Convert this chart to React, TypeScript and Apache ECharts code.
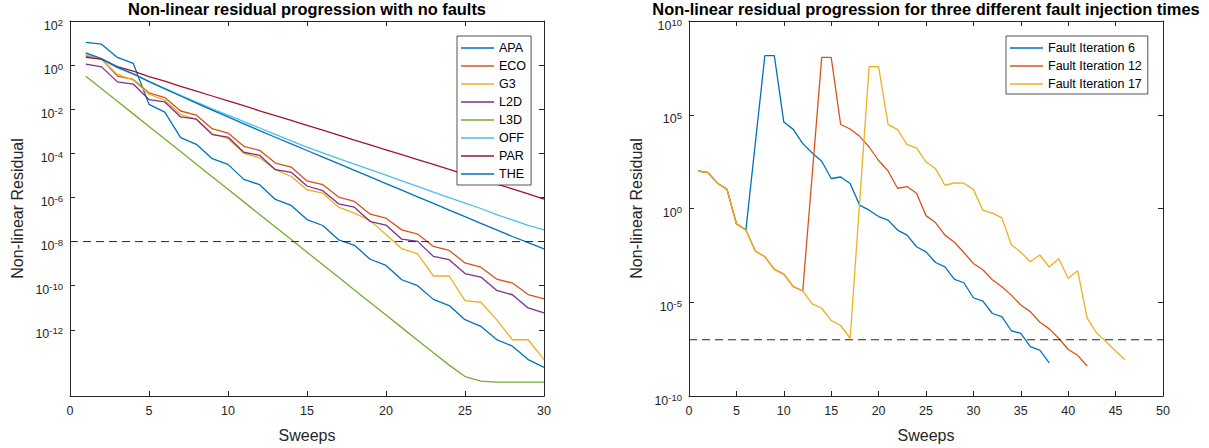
import React, { useEffect, useRef } from "react";
import * as echarts from "echarts";

// ---------- Data (log10 of the non-linear residual) ----------
const leftSweeps = Array.from({ length: 30 }, (_, i) => i + 1);

const apaLog = [1.03, 0.95, 0.35, 0.08, -1.78, -2.13, -3.29, -3.59, -4.24, -4.5, -5.18, -5.42, -6.09, -6.36, -7.0, -7.27, -7.92, -8.17, -8.8, -9.08, -9.73, -10.0, -10.62, -10.9, -11.54, -11.84, -12.44, -12.74, -13.35, -13.7];
const ecoLog = [0.41, 0.27, -0.5, -0.65, -1.26, -1.47, -2.08, -2.27, -2.88, -3.08, -3.68, -3.86, -4.44, -4.62, -5.25, -5.42, -5.98, -6.18, -6.76, -6.94, -7.47, -7.66, -8.22, -8.4, -8.97, -9.16, -9.7, -9.88, -10.4, -10.6];
const g3Log = [0.53, 0.26, -0.42, -0.68, -1.32, -1.59, -2.24, -2.45, -3.1, -3.33, -4.0, -4.2, -4.74, -5.05, -5.65, -5.8, -6.44, -6.71, -7.05, -7.68, -8.32, -8.56, -9.56, -9.56, -10.68, -10.75, -11.54, -12.45, -12.45, -13.35];
const l2dLog = [0.05, -0.08, -0.76, -0.86, -1.56, -1.67, -2.35, -2.45, -3.15, -3.26, -3.95, -4.09, -4.74, -4.86, -5.48, -5.69, -6.29, -6.44, -7.09, -7.25, -7.89, -7.99, -8.67, -8.82, -9.45, -9.61, -10.21, -10.41, -11.01, -11.23];
const l3dLog = [-0.5, -1.07, -1.64, -2.21, -2.78, -3.35, -3.92, -4.49, -5.06, -5.63, -6.2, -6.77, -7.34, -7.91, -8.48, -9.05, -9.62, -10.19, -10.76, -11.33, -11.9, -12.47, -13.04, -13.6, -14.12, -14.33, -14.37, -14.37, -14.37, -14.37];
const offLog = [0.45, 0.25, -0.1, -0.4, -0.73, -1.05, -1.37, -1.68, -1.98, -2.27, -2.56, -2.85, -3.14, -3.43, -3.72, -3.98, -4.24, -4.49, -4.74, -4.99, -5.25, -5.5, -5.76, -6.01, -6.26, -6.5, -6.78, -7.02, -7.27, -7.47];
const parLog = [0.35, 0.27, -0.07, -0.27, -0.52, -0.73, -0.96, -1.18, -1.4, -1.62, -1.84, -2.07, -2.29, -2.51, -2.73, -2.95, -3.17, -3.4, -3.62, -3.84, -4.06, -4.28, -4.5, -4.73, -4.95, -5.17, -5.39, -5.61, -5.84, -6.08];
const theLog = [0.55, 0.3, -0.1, -0.4, -0.75, -1.08, -1.4, -1.72, -2.04, -2.35, -2.66, -2.97, -3.27, -3.57, -3.87, -4.17, -4.47, -4.77, -5.07, -5.37, -5.67, -5.97, -6.27, -6.57, -6.87, -7.17, -7.47, -7.77, -8.05, -8.33];

const leftNames = ["APA", "ECO", "G3", "L2D", "L3D", "OFF", "PAR", "THE"];
const leftValues = [apaLog, ecoLog, g3Log, l2dLog, l3dLog, offLog, parLog, theLog];
const leftColors = ["#0072BD", "#D95319", "#EDB120", "#7E2F8E", "#77AC30", "#4DBEEE", "#A2142F", "#0072BD"];

const fault6Log = [2.0, 1.91, 1.35, 1.03, -0.81, -1.15, 3.5, 8.15, 8.15, 4.61, 4.22, 3.46, 2.96, 2.52, 1.6, 1.68, 1.33, 0.18, -0.09, -0.43, -0.62, -1.15, -1.42, -2.04, -2.31, -2.88, -3.11, -3.78, -3.96, -4.76, -4.94, -5.6, -5.77, -6.52, -6.66, -7.37, -7.55, -8.23];
const fault12Log = [2.0, 1.91, 1.35, 1.03, -0.81, -1.15, -2.27, -2.57, -3.25, -3.5, -4.17, -4.4, 1.83, 8.06, 8.06, 4.48, 4.24, 3.85, 3.28, 2.56, 2.0, 1.08, 1.17, 0.81, -0.38, -0.75, -1.42, -1.8, -2.35, -2.93, -3.27, -3.8, -4.17, -4.62, -5.15, -5.5, -6.05, -6.42, -6.92, -7.52, -7.83, -8.4];
const fault17Log = [2.0, 1.91, 1.35, 1.03, -0.81, -1.15, -2.27, -2.57, -3.25, -3.5, -4.17, -4.4, -5.09, -5.32, -5.98, -6.24, -6.92, 0.33, 7.57, 7.57, 4.49, 4.21, 3.41, 3.23, 2.48, 2.13, 1.24, 1.36, 1.35, 1.02, -0.09, -0.25, -0.5, -1.93, -2.33, -2.84, -2.48, -3.12, -2.68, -3.72, -3.32, -5.85, -6.64, -7.1, -7.6, -8.07];

const rightNames = ["Fault Iteration 6", "Fault Iteration 12", "Fault Iteration 17"];
const rightValues = [fault6Log, fault12Log, fault17Log];
const rightColors = ["#0072BD", "#D95319", "#EDB120"];

const leftThreshold = -8;
const rightThreshold = -7;
const leftYTicks = [-12, -10, -8, -6, -4, -2, 0, 2];

const FONT = "'Liberation Sans', Arial, Helvetica, sans-serif";
const INK = "#262626";

function supLabel(v: number) {
  return `{b|10}{s|${v}}`;
}
const supRich = {
  b: { fontSize: 12.5, lineHeight: 15, verticalAlign: "bottom", color: INK, fontFamily: FONT },
  s: { fontSize: 9.5, lineHeight: 15, verticalAlign: "top", color: INK, fontFamily: FONT },
};

export default function App() {
  const ref = useRef<HTMLDivElement>(null);
  useEffect(() => {
    if (!ref.current) return;
    const chart = echarts.init(ref.current, undefined, { renderer: "svg" });

    const axisLine = { show: true, onZero: false, lineStyle: { color: INK, width: 1 } };
    const tick = { show: true, inside: true, length: 5, lineStyle: { color: INK, width: 1 } };

    const xAxisBase = (gridIndex: number, max: number, position: string, labels: boolean) => ({
      type: "value",
      gridIndex,
      position,
      min: 0,
      max,
      interval: 5,
      axisLine,
      axisTick: tick,
      splitLine: { show: false },
      axisLabel: { show: labels, margin: 8, color: INK, fontSize: 12.5, fontFamily: FONT },
      ...(labels
        ? { name: "Sweeps", nameLocation: "middle", nameGap: 31, nameTextStyle: { fontSize: 16, color: INK, fontFamily: FONT } }
        : {}),
    });

    const yName = { name: "Non-linear Residual", nameLocation: "middle", nameGap: 45, nameTextStyle: { fontSize: 16, color: INK, fontFamily: FONT } };

    const leftSeries = leftNames.map((name, i) => ({
      name,
      type: "line",
      xAxisIndex: 0,
      yAxisIndex: 0,
      data: leftSweeps.map((s, j) => [s, leftValues[i][j]]),
      symbol: "none",
      lineStyle: { color: leftColors[i], width: 1.3 },
      itemStyle: { color: leftColors[i] },
    }));
    const rightSeries = rightNames.map((name, i) => ({
      name,
      type: "line",
      xAxisIndex: 2,
      yAxisIndex: 2,
      data: rightValues[i].map((v, j) => [j + 1, v]),
      symbol: "none",
      lineStyle: { color: rightColors[i], width: 1.3 },
      itemStyle: { color: rightColors[i] },
    }));

    const dash = { color: INK, width: 1, type: [8, 5] };

    const legendBase = {
      orient: "vertical",
      top: 36,
      icon: "rect",
      itemWidth: 33,
      itemHeight: 1.5,
      itemGap: 4,
      borderColor: INK,
      borderWidth: 0.8,
      backgroundColor: "#ffffff",
      selectedMode: false,
      textStyle: { fontSize: 12.5, lineHeight: 14, color: "#000", fontFamily: FONT },
    };

    const titleStyle = { fontSize: 16.4, lineHeight: 17, fontWeight: "bold", color: "#000", fontFamily: FONT };
    const yLabel = { margin: 7, padding: [7, 0, 0, 0], formatter: supLabel, rich: supRich };

    chart.setOption({
      animation: false,
      backgroundColor: "#ffffff",
      title: [
        { text: "Non-linear residual progression with no faults", left: 307, top: 0, padding: 0, textAlign: "center", textStyle: titleStyle },
        { text: "Non-linear residual progression for three different fault injection times", left: 926, top: 0, padding: 0, textAlign: "center", textStyle: titleStyle },
      ],
      grid: [
        { left: 70, top: 21, width: 474, height: 375 },
        { left: 689, top: 21, width: 474, height: 375 },
      ],
      legend: [
        { ...legendBase, data: leftNames, left: 457, padding: [5, 5, 4, 4] },
        { ...legendBase, data: rightNames, left: 1006, padding: [5, 6, 3, 4] },
      ],
      xAxis: [
        xAxisBase(0, 30, "bottom", true),
        xAxisBase(0, 30, "top", false),
        xAxisBase(1, 50, "bottom", true),
        xAxisBase(1, 50, "top", false),
      ],
      yAxis: [
        {
          type: "value", gridIndex: 0, position: "left", min: -15, max: 2, interval: 1,
          axisLine, axisTick: { ...tick, customValues: leftYTicks }, splitLine: { show: false },
          axisLabel: { ...yLabel, customValues: leftYTicks },
          ...yName,
        },
        {
          type: "value", gridIndex: 0, position: "right", min: -15, max: 2, interval: 1,
          axisLine, axisTick: { ...tick, customValues: leftYTicks }, splitLine: { show: false },
          axisLabel: { show: false },
        },
        {
          type: "value", gridIndex: 1, position: "left", min: -10, max: 10, interval: 5,
          axisLine, axisTick: tick, splitLine: { show: false },
          axisLabel: yLabel,
          ...yName,
        },
        {
          type: "value", gridIndex: 1, position: "right", min: -10, max: 10, interval: 5,
          axisLine, axisTick: tick, splitLine: { show: false },
          axisLabel: { show: false },
        },
      ],
      series: [
        ...leftSeries,
        {
          name: "thresholdLeft", type: "line", xAxisIndex: 0, yAxisIndex: 0, symbol: "none", silent: true,
          data: [[0, leftThreshold], [30, leftThreshold]], lineStyle: dash,
        },
        ...rightSeries,
        {
          name: "thresholdRight", type: "line", xAxisIndex: 2, yAxisIndex: 2, symbol: "none", silent: true,
          data: [[0, rightThreshold], [50, rightThreshold]], lineStyle: dash,
        },
      ],
    });
    return () => chart.dispose();
  }, []);
  return <div ref={ref} style={{ position: "fixed", left: 0, top: 0, width: 1209, height: 448, background: "#fff" }} />;
}
